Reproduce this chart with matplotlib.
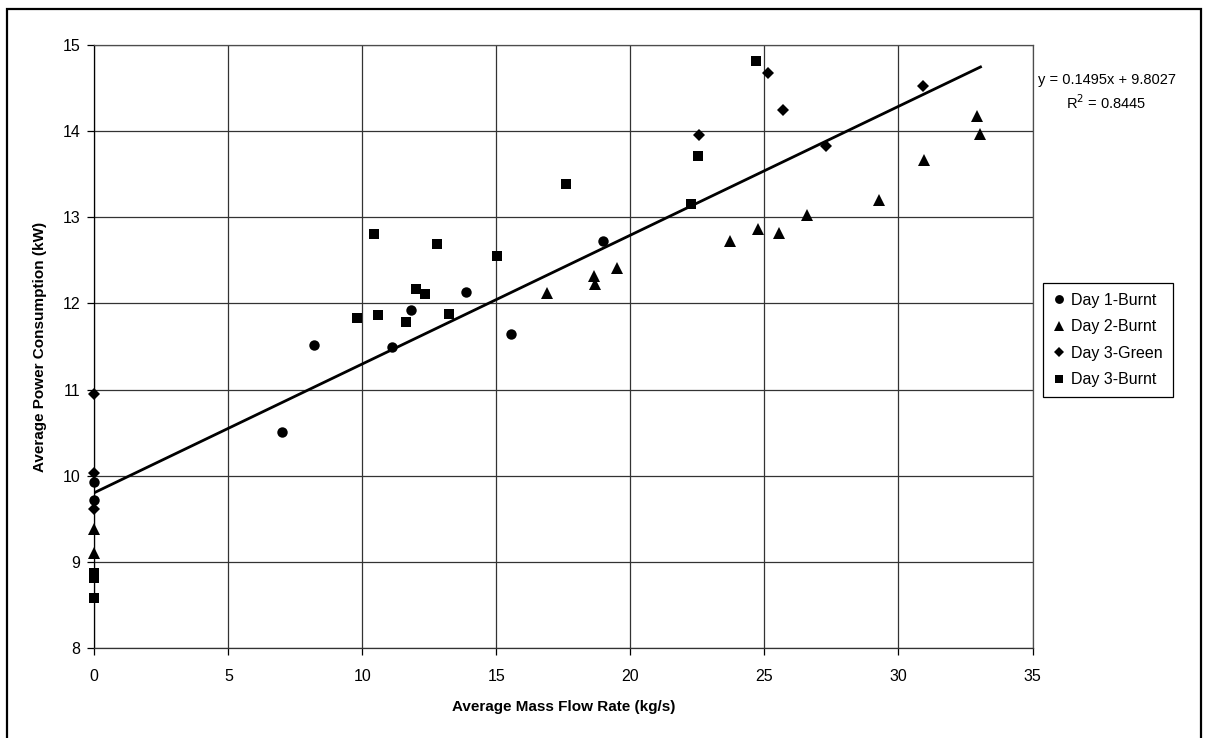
import matplotlib
matplotlib.use("Agg")
import matplotlib.pyplot as plt
from matplotlib.patches import Rectangle

plt.rcParams['font.family'] = ['Liberation Sans', 'DejaVu Sans']

# Day 1-Burnt (circles)
day1_x = [0, 0, 6.99, 8.2, 11.12, 11.83, 13.87, 15.55, 18.99]
day1_y = [9.93, 9.72, 10.51, 11.52, 11.50, 11.92, 12.13, 11.64, 12.73]

# Day 2-Burnt (triangles)
day2_x = [0, 0, 16.9, 18.65, 18.68, 19.5, 23.73, 24.77, 25.55, 26.58, 29.27, 30.96, 32.93, 33.06]
day2_y = [9.38, 9.10, 12.12, 12.32, 12.23, 12.41, 12.73, 12.86, 12.82, 13.03, 13.20, 13.66, 14.18, 13.97]

# Day 3-Green (diamonds)
day3g_x = [0, 0, 0, 22.54, 25.15, 25.71, 27.29, 30.9]
day3g_y = [10.95, 10.03, 9.61, 13.95, 14.67, 14.25, 13.83, 14.52]

# Day 3-Burnt (squares)
day3b_x = [0, 0, 0, 9.81, 10.44, 10.6, 11.62, 12.0, 12.34, 12.80, 13.25, 15.01, 17.6, 22.25, 22.51, 24.69]
day3b_y = [8.87, 8.81, 8.58, 11.83, 12.81, 11.87, 11.78, 12.17, 12.11, 12.69, 11.88, 12.55, 13.39, 13.15, 13.71, 14.81]

# linear trend line as reported on the chart
slope = 0.1495
intercept = 9.8027
r_squared = 0.8445

W, H = 1207, 738
fig = plt.figure(figsize=(W / 100, H / 100), dpi=100)
ax = fig.add_axes([94.3 / W, 1 - 648 / H, (1032.5 - 94.3) / W, (648 - 45) / H])

ms = dict(color='black', linestyle='none', markeredgewidth=0, clip_on=False, zorder=3)
ax.plot(day1_x, day1_y, marker='o', markersize=7.5, label='Day 1-Burnt', **ms)
ax.plot(day2_x, day2_y, marker='^', markersize=8, label='Day 2-Burnt', **ms)
ax.plot(day3g_x, day3g_y, marker='D', markersize=6.2, label='Day 3-Green', **ms)
ax.plot(day3b_x, day3b_y, marker='s', markersize=7, label='Day 3-Burnt', **ms)

all_x = day1_x + day2_x + day3g_x + day3b_x
x0, x1 = min(all_x), max(all_x)
ax.plot([x0, x1], [slope * x0 + intercept, slope * x1 + intercept],
        color='black', linewidth=2, zorder=4)

ax.set_xlim(0, 35)
ax.set_ylim(8, 15)
ax.set_xticks(range(0, 36, 5))
ax.set_yticks(range(8, 16))
ax.grid(True, color='0.2', linewidth=0.9)
ax.set_axisbelow(True)
for s in ax.spines.values():
    s.set_color('0.3')
    s.set_linewidth(0.9)
ax.spines['left'].set_color('black')
ax.spines['bottom'].set_color('0.2')
ax.tick_params(direction='out', length=5, width=0.9, labelsize=11.5, color='black')
ax.tick_params(axis='x', pad=10)
ax.tick_params(axis='y', pad=5)

ax.set_xlabel('Average Mass Flow Rate (kg/s)', fontsize=11, fontweight='bold')
ax.set_ylabel('Average Power Consumption (kW)', fontsize=11, fontweight='bold')
ax.xaxis.set_label_coords(0.5, -0.087)
ax.yaxis.set_label_coords(-0.050, 0.5)

fig.text(1106.7 / W, 1 - 80 / H, 'y = %.4fx + %.4f' % (slope, intercept),
         ha='center', va='center', fontsize=10.5)
fig.text(1106.7 / W, 1 - 103 / H, r'R$^2$ = %.4f' % r_squared,
         ha='center', va='center', fontsize=10.5)

leg = ax.legend(loc='upper left', bbox_to_anchor=(1042.7 / W, 1 - 283.3 / H),
                bbox_transform=fig.transFigure, borderaxespad=0, fancybox=False,
                edgecolor='black', framealpha=1, fontsize=11.5, markerscale=0.85,
                handlelength=0.9, handletextpad=0.3, labelspacing=0.72,
                borderpad=0.6)
leg.get_frame().set_linewidth(0.9)

# outer chart border
fig.patches.append(Rectangle((7 / W, -0.05), (1201 - 7) / W, 1.05 - 9 / H,
                             transform=fig.transFigure, fill=False,
                             edgecolor='black', linewidth=1.6))

fig.savefig('out.png', dpi=100)
